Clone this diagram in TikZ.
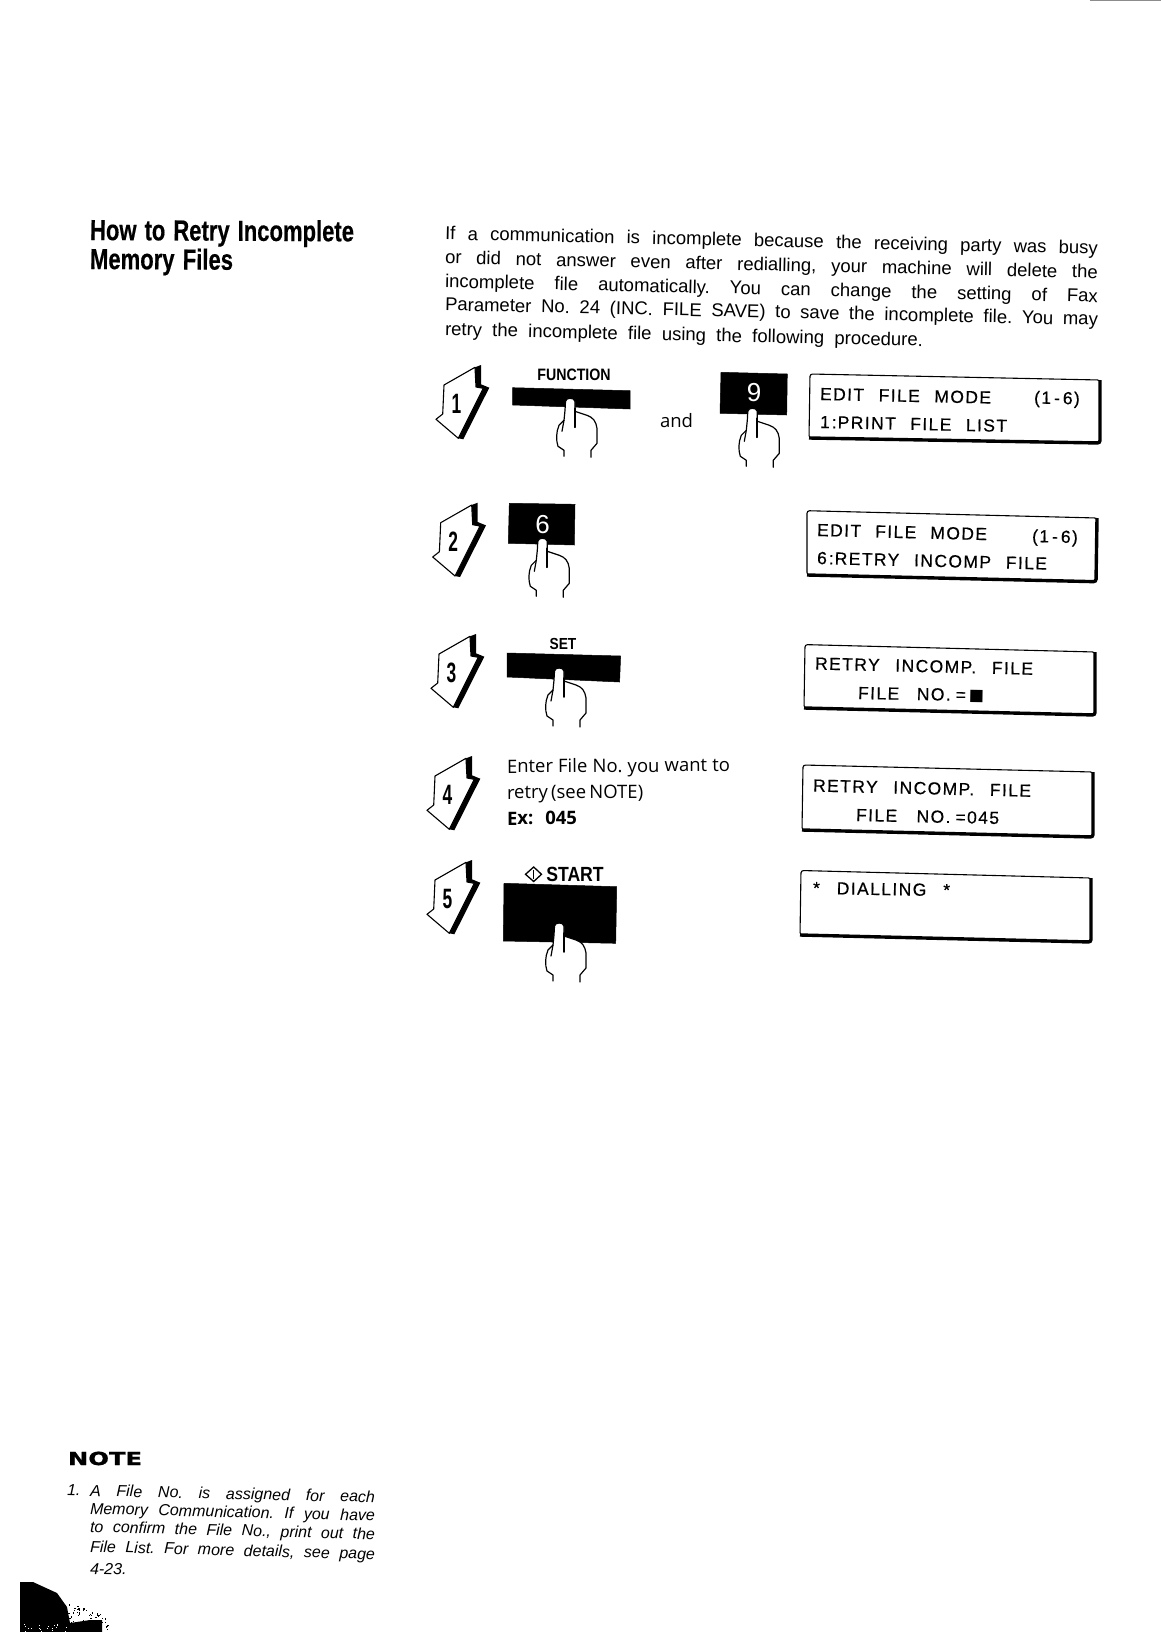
\documentclass[tikz,border=0pt]{standalone}
\usepackage{fontspec}
\setmainfont{Liberation Sans}
\newfontfamily\headf[FakeStretch=0.76,FakeBold=0.4]{Liberation Sans Bold}
\newfontfamily\numf[FakeStretch=0.62]{Liberation Sans Bold}
\newfontfamily\notef[FakeStretch=1.35,FakeBold=1]{DejaVu Sans Bold}
\newfontfamily\lcdf[LetterSpace=8,FakeBold=0.4]{Liberation Sans}
\newfontfamily\stepf{Open Sans}
\newfontfamily\symf{DejaVu Sans}
\newfontfamily\keyf[FakeStretch=0.86]{Liberation Sans Bold}
\tikzset{
  txt/.style={anchor=base west,inner sep=0pt,outer sep=0pt},
  keyface/.style={fill=black,draw=black,line width=0.5pt},
  lcdthin/.style={draw=black,fill=white,line width=1.1pt,rounded corners=2.5pt},
  lcdthick/.style={draw=black,line width=3.4pt,rounded corners=2.5pt},
  handline/.style={draw=black,line width=1.2pt,line join=round,line cap=round},
}
\newcommand{\txtat}[6]{\node[txt,rotate=#5] (#1) at (#2,#3) {\makebox[#4pt][s]{#6}};}
\newcommand{\fingerhand}[2]{%
  \begin{scope}[shift={(#1,#2)}]
    \fill[white] (-6,58) -- (-6,52) -- (-12,48) -- (-13,33) -- (-11,27) -- (-6,22) -- (-5,12) -- (-4.5,3)
      to[out=80,in=180] (0,0) to[out=0,in=100] (5,3) -- (5,13) -- (17,17) -- (25,22) -- (27,30) -- (27,45) -- (21,52) -- (21,59) -- cycle;
    \draw[handline] (-6,58) -- (-6,52) -- (-12,48) .. controls (-14,42) and (-14,34) .. (-11,27) -- (-6,22) -- (-5,12) -- (-4.5,3)
      to[out=80,in=180] (0,0) to[out=0,in=100] (5,3) -- (5,13) -- (17,17) .. controls (23,19) and (26,23) .. (27,30) -- (27,45) -- (21,52) -- (21,59);
    \draw[handline] (-6,22) -- (-8,33);
    \draw[handline,line width=1.8pt] (5,10) -- (5,29);
  \end{scope}}
\newcommand{\steparrow}[3]{%
  \begin{scope}[shift={(#1,#2)}]
    \fill[black] (39,2.3) -- (45,0) -- (45,19.3) -- (53.3,22.7) -- (27.3,74.3) -- (22.3,73.3) -- (47.3,23.3) -- (40,22) -- cycle;
    \draw[black,line width=1.1pt,line join=round,fill=white] (39,2.3) -- (8,20) -- (6.7,49) -- (0,54.3) -- (22.3,73.3) -- (47.3,23.3) -- (40,22) -- cycle;
    \node[inner sep=0pt] (num#3) at (20.5,39) {\numf\fontsize{28}{28}\selectfont #3};
  \end{scope}}
\newcommand{\lcdbox}[8]{%
  \path[lcdthin] (#1,#2) -- (#3,#4) -- (#5,#6) -- (#7,#8) -- cycle;
  \draw[lcdthick] (#3,#4) -- (#5,#6) -- (#7,#8);}
\newcommand{\lcdfs}{\lcdf\fontsize{17.5}{20}\selectfont}
\newcommand{\bodyfs}{\fontsize{18.5}{20}\selectfont}
\newcommand{\stepfs}{\stepf\fontsize{18.5}{20}\selectfont}
\newcommand{\notefs}{\itshape\fontsize{16}{18}\selectfont}
\newcommand{\rng}{(1\hspace{3pt}-\hspace{3pt}6)}
\begin{document}
\frenchspacing
\begin{tikzpicture}[x=1pt,y=-1pt]
\useasboundingbox[fill=white] (0,0) rectangle (1161,1632);

% scan edge at the top right
\draw[black!45,line width=1pt] (1090,1) -- (1161,1);

% heading
\txtat{h1}{90}{240}{264}{-0.3}{\headf\fontsize{29}{30}\selectfont How to Retry Incomplete}
\txtat{h2}{90}{269}{143}{-0.3}{\headf\fontsize{29}{30}\selectfont Memory Files}

% body
\txtat{b1}{445}{239.5}{653}{-1.3}{\bodyfs If a communication is incomplete because the receiving party was busy}
\txtat{b2}{445}{263.5}{653}{-1.3}{\bodyfs or did not answer even after redialling, your machine will delete the}
\txtat{b3}{445}{287.5}{653}{-1.3}{\bodyfs incomplete file automatically. You can change the setting of Fax}
\txtat{b4}{445}{310.5}{653}{-1.3}{\bodyfs Parameter No. 24 (INC. FILE SAVE) to save the incomplete file. You may}
\txtat{b5}{445}{335.5}{478}{-1.3}{\bodyfs retry the incomplete file using the following procedure.}

% step arrows
\steparrow{436}{365}{1}
\steparrow{432.7}{502.7}{2}
\steparrow{431}{634}{3}
\steparrow{427}{756}{4}
\steparrow{427}{860}{5}

% keys
\fill[keyface] (512.7,387.7) -- (630,390.7) -- (630,409) -- (512.7,405) -- cycle;
\fill[keyface] (721,372.3) -- (787.3,374) -- (786.7,415) -- (720,413.3) -- cycle;
\fill[keyface] (509.3,503.3) -- (575,504.3) -- (574.3,545) -- (508.3,543.3) -- cycle;
\fill[keyface] (507,653) -- (620.6,656) -- (619.6,682) -- (507,677) -- cycle;
\fill[keyface] (504,883.3) -- (616.7,886.7) -- (615.7,943.3) -- (503.3,941) -- cycle;

% key labels
\node[inner sep=0pt] (kfunction) at (574,374.5) {\keyf\fontsize{16.5}{18}\selectfont FUNCTION};
\node[inner sep=0pt] (kset) at (563,644) {\keyf\fontsize{16}{18}\selectfont SET};
\node[inner sep=0pt,text=white] (knine) at (754,393) {\fontsize{26}{27}\selectfont 9};
\node[inner sep=0pt,text=white] (ksix) at (542.7,525) {\fontsize{26}{27}\selectfont 6};
\node[inner sep=0pt] (kstart) at (575,874.5) {\keyf\fontsize{20.5}{22}\selectfont START};
\draw[black,line width=1.3pt,line join=miter] (525.5,874.3) -- (533.7,867) -- (541.5,874.3) -- (533.7,881.5) -- cycle;
\draw[black,line width=1.5pt] (533.7,870) -- (533.7,878.5);

% hands
\fingerhand{570}{398.3}
\fingerhand{752.3}{408.3}
\fingerhand{542.3}{538.3}
\fingerhand{559}{668}
\fingerhand{559}{923}

% step texts
\node[txt] (andw) at (660,427) {\stepfs and};
\txtat{s1}{507}{773}{223}{0.4}{\stepfs Enter File No. you want to}
\txtat{s2}{507}{799}{136}{0.2}{\stepfs retry (see NOTE)}
\txtat{s3}{507}{825}{70}{0.2}{\stepf\bfseries\fontsize{18.5}{20}\selectfont Ex:\, 045}

% displays
\lcdbox{810}{374}{1100}{380}{1100}{443}{809}{438}
\lcdbox{807}{510.7}{1097}{518}{1096}{581.7}{807}{575}
\lcdbox{805}{644.6}{1095}{652}{1095}{715}{804}{708}
\lcdbox{803}{765}{1093}{772}{1093}{837}{802}{830}
\lcdbox{801}{870.5}{1091}{878}{1091}{942}{800}{935}

\txtat{d1a}{820}{400}{171}{-1.2}{\lcdfs EDIT FILE MODE}
\txtat{d1b}{1034}{403.5}{49}{-1.2}{\lcdfs \rng}
\txtat{d1c}{820}{428}{187}{-1.2}{\lcdfs 1\hspace{2pt}:\hspace{1pt}PRINT FILE LIST}
\txtat{d2a}{817}{536}{170}{-1.4}{\lcdfs EDIT FILE MODE}
\txtat{d2b}{1032}{542}{49}{-1.4}{\lcdfs \rng}
\txtat{d2c}{817}{564}{230}{-1.4}{\lcdfs 6\hspace{2pt}:\hspace{1pt}RETRY INCOMP FILE}
\txtat{d3a}{815}{669.5}{218}{-1.4}{\lcdfs RETRY INCOMP. FILE}
\txtat{d3b}{858}{699}{126}{-1}{\lcdfs FILE NO.\hspace{5pt}=\hspace{3pt}{\symf\fontsize{16}{16}\selectfont■}}
\txtat{d4a}{813}{791.5}{218}{-1.4}{\lcdfs RETRY INCOMP. FILE}
\txtat{d4b}{856}{821}{143}{-1.2}{\lcdfs FILE NO.\hspace{5pt}=045}
\txtat{d5a}{813}{894}{137}{-0.9}{\lcdfs * DIALLING *}

% note
\node[txt] (noteh) at (68,1465) {\notef\fontsize{18}{20}\selectfont NOTE};
\node[txt,rotate=-1.3] (n0) at (67,1495) {\notefs 1.};
\txtat{n1}{90}{1496}{285}{-1.3}{\notefs A File No. is assigned for each}
\txtat{n2}{90}{1514}{285}{-1.4}{\notefs Memory Communication. If you have}
\txtat{n3}{90}{1532}{285}{-1.5}{\notefs to confirm the File No., print out the}
\txtat{n4}{90}{1552}{285}{-1.5}{\notefs File List. For more details, see page}
\txtat{n5}{90}{1574}{39}{-1.3}{\notefs 4-23.}

% corner scan smudge
\fill[black] (20,1582) -- (33,1582) -- (57,1593) -- (67,1607) -- (70,1623) -- (90,1620) -- (102,1620) -- (102,1632) -- (20,1632) -- cycle;
\pgfmathsetseed{4123}
\foreach \i in {1,...,420}{
  \pgfmathsetmacro{\px}{20+rnd*90}
  \pgfmathsetmacro{\py}{1582+rnd*50}
  \pgfmathsetmacro{\lim}{1582+(\px-20)*0.4}
  \ifdim \py pt>\lim pt
    \fill[black] (\px,\py) rectangle ++(1.2,1.2);
  \fi
}
\foreach \i in {1,...,20}{
  \pgfmathsetmacro{\px}{22+rnd*45}
  \pgfmathsetmacro{\py}{1624+rnd*7}
  \fill[white] (\px,\py) rectangle ++(1,1);
}
\end{tikzpicture}
\end{document}
